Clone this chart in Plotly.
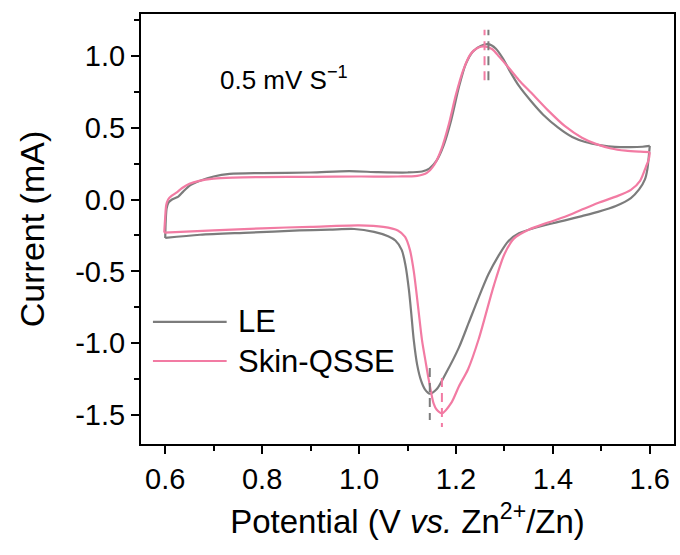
import plotly.graph_objects as go

# ---- Cyclic voltammetry at 0.5 mV/s ----
# LE: anodic sweep (0.6 -> 1.6 V)
le_anodic_v = [0.600, 0.601, 0.603, 0.607, 0.614, 0.627, 0.637, 0.652, 0.672, 0.700, 0.733,
               0.800, 0.900, 0.980, 1.040, 1.100, 1.130, 1.145, 1.160, 1.175, 1.190, 1.206,
               1.220, 1.235, 1.252, 1.267, 1.282, 1.297, 1.310, 1.330, 1.356, 1.380, 1.411,
               1.440, 1.467, 1.500, 1.528, 1.560, 1.585, 1.600]
le_anodic_i = [-0.267, -0.150, -0.060, -0.020, 0.000, 0.020, 0.055, 0.100, 0.130, 0.160, 0.178,
               0.184, 0.188, 0.197, 0.190, 0.188, 0.195, 0.215, 0.270, 0.380, 0.550, 0.780,
               0.940, 1.030, 1.070, 1.080, 1.050, 0.980, 0.900, 0.790, 0.680, 0.590, 0.500,
               0.435, 0.400, 0.377, 0.366, 0.364, 0.367, 0.373]
# LE: cathodic sweep (1.6 -> 0.6 V)
le_cathodic_v = [1.600, 1.598, 1.595, 1.590, 1.578, 1.561, 1.530, 1.493, 1.460, 1.425, 1.400,
                 1.360, 1.330, 1.308, 1.288, 1.267, 1.247, 1.226, 1.206, 1.179, 1.160, 1.146,
                 1.136, 1.128, 1.120, 1.113, 1.108, 1.103, 1.096, 1.088, 1.075, 1.060, 1.031,
                 0.990, 0.939, 0.877, 0.775, 0.672, 0.600]
le_cathodic_i = [0.373, 0.300, 0.210, 0.140, 0.070, 0.010, -0.045, -0.086, -0.115, -0.145, -0.165,
                 -0.200, -0.235, -0.290, -0.390, -0.520, -0.680, -0.860, -1.030, -1.210, -1.320, -1.350,
                 -1.320, -1.260, -1.150, -0.980, -0.800, -0.630, -0.460, -0.350, -0.285, -0.255, -0.225,
                 -0.205, -0.210, -0.215, -0.230, -0.245, -0.267]

# Skin-QSSE: anodic sweep
qsse_anodic_v = [0.598, 0.600, 0.602, 0.606, 0.613, 0.624, 0.635, 0.650, 0.670, 0.700, 0.740,
                 0.800, 0.900, 1.000, 1.080, 1.120, 1.140, 1.155, 1.170, 1.185, 1.200, 1.215,
                 1.230, 1.245, 1.259, 1.275, 1.290, 1.308, 1.330, 1.356, 1.390, 1.425, 1.460,
                 1.490, 1.520, 1.550, 1.580, 1.600]
qsse_anodic_i = [-0.230, -0.120, -0.040, 0.000, 0.025, 0.050, 0.080, 0.110, 0.130, 0.145, 0.152,
                 0.156, 0.158, 0.160, 0.160, 0.165, 0.185, 0.240, 0.350, 0.520, 0.730, 0.900,
                 1.010, 1.055, 1.065, 1.045, 0.990, 0.920, 0.830, 0.740, 0.620, 0.510, 0.430,
                 0.385, 0.355, 0.340, 0.333, 0.330]
# Skin-QSSE: cathodic sweep
qsse_cathodic_v = [1.600, 1.598, 1.592, 1.580, 1.561, 1.530, 1.493, 1.460, 1.425, 1.390, 1.350,
                   1.320, 1.300, 1.278, 1.247, 1.225, 1.206, 1.191, 1.171, 1.160, 1.154, 1.144,
                   1.137, 1.130, 1.122, 1.113, 1.105, 1.095, 1.080, 1.050, 1.000, 0.900, 0.800,
                   0.700, 0.598]
qsse_cathodic_i = [0.330, 0.280, 0.227, 0.130, 0.067, 0.020, -0.024, -0.070, -0.120, -0.160, -0.210,
                   -0.270, -0.380, -0.600, -0.970, -1.180, -1.300, -1.410, -1.486, -1.460, -1.420, -1.256,
                   -1.120, -0.980, -0.750, -0.500, -0.350, -0.260, -0.215, -0.190, -0.180, -0.190, -0.200,
                   -0.215, -0.230]

# Peak potentials (V) and the current span (mA) of their dashed guide marks
le_peaks_v = [1.267, 1.146]
qsse_peaks_v = [1.259, 1.171]
le_guides_i = [(0.83, 1.18), (-1.172, -1.533)]
qsse_guides_i = [(0.83, 1.18), (-1.241, -1.582)]

series_names = ["LE", "Skin-QSSE"]
x_ticks = [0.6, 0.8, 1.0, 1.2, 1.4, 1.6]
y_ticks = [-1.5, -1.0, -0.5, 0.0, 0.5, 1.0]

GRAY = "#7c7c7c"
PINK = "#f27ba3"
FONT = "Liberation Sans, Arial, sans-serif"

fig = go.Figure()

def add_branch(v, i, color):
    fig.add_trace(go.Scatter(x=v, y=i, mode="lines",
                             line=dict(color=color, width=2.2, shape="spline", smoothing=0.8),
                             showlegend=False, hoverinfo="skip"))

add_branch(le_anodic_v, le_anodic_i, GRAY)
add_branch(le_cathodic_v, le_cathodic_i, GRAY)
add_branch(qsse_anodic_v, qsse_anodic_i, PINK)
add_branch(qsse_cathodic_v, qsse_cathodic_i, PINK)

for peaks, spans, color in [(le_peaks_v, le_guides_i, GRAY), (qsse_peaks_v, qsse_guides_i, PINK)]:
    for pv, (i0, i1) in zip(peaks, spans):
        fig.add_trace(go.Scatter(x=[pv, pv], y=[i0, i1], mode="lines",
                                 line=dict(color=color, width=2, dash="9px,6px"),
                                 showlegend=False, hoverinfo="skip"))

# Legend drawn as line samples plus labels
legend_rows = [(0.284, GRAY), (0.193, PINK)]
for (ly, col), name in zip(legend_rows, series_names):
    fig.add_shape(type="line", xref="paper", yref="paper", x0=0.0224, x1=0.1607, y0=ly, y1=ly,
                  line=dict(color=col, width=2.2))
    fig.add_annotation(xref="paper", yref="paper", x=0.1776, y=ly, text=name, showarrow=False,
                       xanchor="left", yanchor="middle", font=dict(size=31, color="black", family=FONT))

fig.add_annotation(xref="paper", yref="paper", x=0.144, y=0.851, text="0.5 mV S<sup>\u22121</sup>",
                   showarrow=False, xanchor="left", yanchor="middle",
                   font=dict(size=26, color="black", family=FONT))

axis_common = dict(showline=True, linecolor="black", linewidth=2, mirror=True,
                   ticks="outside", ticklen=8, tickwidth=2, tickcolor="black",
                   showgrid=False, zeroline=False,
                   tickfont=dict(size=29, color="black", family=FONT))

fig.update_xaxes(range=[0.55, 1.65], tickvals=x_ticks, ticktext=[f"{t:.1f}" for t in x_ticks],
                 minor=dict(dtick=0.1, tick0=0.5, ticks="outside", ticklen=5, tickwidth=2, tickcolor="black"),
                 title=dict(text="Potential (V <i>vs.</i> Zn<sup>2+</sup>/Zn)", standoff=16,
                            font=dict(size=33, color="black", family=FONT)),
                 **axis_common)
fig.update_yaxes(range=[-1.70, 1.29], tickvals=y_ticks, ticktext=[f"{t:.1f}" for t in y_ticks],
                 minor=dict(dtick=0.25, tick0=0, ticks="outside", ticklen=5, tickwidth=2, tickcolor="black"),
                 title=dict(text="Current (mA)", standoff=20,
                            font=dict(size=34, color="black", family=FONT)),
                 **axis_common)

fig.update_layout(width=680, height=555, margin=dict(l=141, r=4, t=14, b=111),
                  plot_bgcolor="white", paper_bgcolor="white", showlegend=False)

fig.write_html("out.html")
